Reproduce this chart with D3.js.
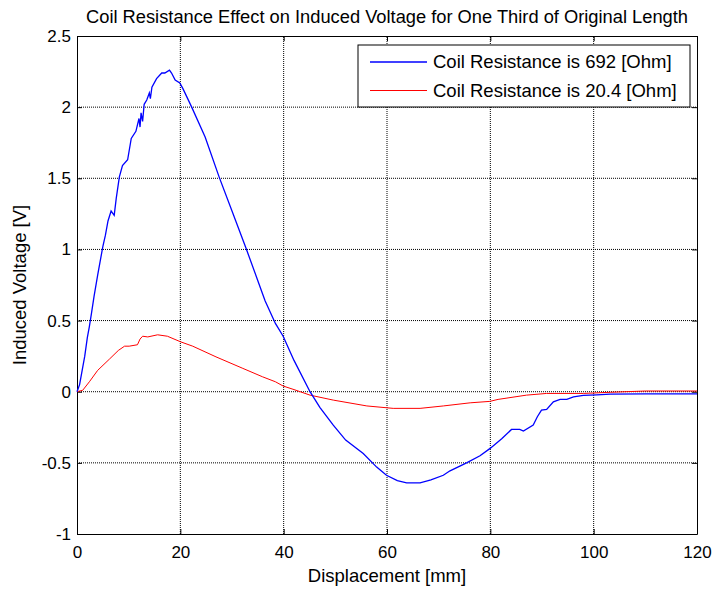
<!DOCTYPE html>
<html>
<head>
<meta charset="utf-8">
<script src="https://cdn.jsdelivr.net/npm/d3@7"></script>
<style>
  body { margin: 0; background: #fff; }
  svg { font-family: "Liberation Sans", Arial, sans-serif; }
  .axis path, .axis line { stroke: #000; }
  .axis text { fill: #000; font-size: 17px; }
</style>
</head>
<body>
<svg id="chart" width="712" height="590"></svg>
<script>
const width = 712;
const height = 590;
const margin = { top: 36, right: 15, bottom: 56, left: 77 };

// data
const xTicks = [0, 20, 40, 60, 80, 100, 120];
const yTicks = [-1, -0.5, 0, 0.5, 1, 1.5, 2, 2.5];

const highDisp = [0, 0.5, 1, 1.5, 2, 2.4, 2.8, 3.3, 4, 5, 5.5, 6, 6.6, 7.2, 7.6, 8.2, 8.8, 9.8, 10.5, 11.4,
  12.0, 12.2, 12.4, 12.7, 13.0, 13.5, 14.0, 14.2, 14.5, 15.4, 16.4, 17.0, 17.9, 18.3, 19.0, 19.9, 20.5,
  22.2, 24.8, 27.5, 30, 32.7, 35, 36.4, 38.4, 39.9, 42, 45.1, 47, 49.6, 52, 55.4, 58, 59.9, 62, 63.8,
  66.4, 68.5, 70.9, 72.2, 75.4, 78, 79.9, 82.2, 84.1, 85.7, 86.4, 88.3, 89.1, 89.9, 90.9, 92.2, 93.5,
  94.8, 96.1, 98, 100.6, 103.2, 110, 120];
const highVolt = [0, 0.05, 0.15, 0.25, 0.38, 0.46, 0.55, 0.67, 0.82, 1.02, 1.1, 1.2, 1.27, 1.24, 1.36, 1.51, 1.59, 1.63, 1.78, 1.83,
  1.92, 1.86, 1.96, 1.90, 2.02, 2.05, 2.10, 2.06, 2.14, 2.20, 2.24, 2.24, 2.26, 2.24, 2.19, 2.17, 2.13,
  2.00, 1.79, 1.51, 1.27, 1.01, 0.78, 0.64, 0.48, 0.39, 0.22, 0, -0.11, -0.235, -0.34, -0.434, -0.53, -0.587, -0.625, -0.64,
  -0.64, -0.62, -0.587, -0.556, -0.50, -0.45, -0.40, -0.33, -0.265, -0.265, -0.277, -0.235, -0.176, -0.13, -0.125, -0.071, -0.054,
  -0.054, -0.036, -0.026, -0.022, -0.017, -0.015, -0.015];

const lowDisp = [0, 1.1, 2.4, 4.0, 6.3, 8.0, 9.2, 10.1, 11.7, 12.2, 12.7, 13.7, 15.6, 17.5, 20.1, 22.4, 26.9,
  32.1, 35.9, 38.4, 39.9, 42, 45.1, 49.6, 56.1, 61.2, 66.4, 70.9, 76.1, 79.9, 81.5, 87.0, 90.9, 98,
  103.2, 110, 120];
const lowVolt = [0, 0.01, 0.07, 0.15, 0.23, 0.29, 0.32, 0.32, 0.33, 0.37, 0.39, 0.385, 0.40, 0.39, 0.35, 0.32, 0.245,
  0.164, 0.105, 0.07, 0.04, 0.015, -0.024, -0.059, -0.10, -0.117, -0.117, -0.10, -0.078, -0.068, -0.054, -0.024, -0.012, -0.012,
  -0.004, 0.005, 0.005];

const seriesNames = ["Coil Resistance is 692 [Ohm]", "Coil Resistance is 20.4 [Ohm]"];
const seriesColors = ["#0000ff", "#ff0000"];

const svg = d3.select("#chart");

const x = d3.scaleLinear().domain([0, 120]).range([margin.left, width - margin.right]);
const y = d3.scaleLinear().domain([-1, 2.5]).range([height - margin.bottom, margin.top]);

// plain hyphen minus, like the original figure
const plain = (d) => String(d);

// grid
svg.append("g")
  .selectAll("line")
  .data(xTicks.slice(1, -1))
  .join("line")
  .attr("x1", (d) => x(d)).attr("x2", (d) => x(d))
  .attr("y1", y(-1)).attr("y2", y(2.5))
  .attr("stroke", "#000").attr("stroke-width", 1).attr("stroke-dasharray", "1,1");

svg.append("g")
  .selectAll("line")
  .data(yTicks.slice(1, -1))
  .join("line")
  .attr("x1", x(0)).attr("x2", x(120))
  .attr("y1", (d) => y(d)).attr("y2", (d) => y(d))
  .attr("stroke", "#000").attr("stroke-width", 1).attr("stroke-dasharray", "1,1");

// axes, ticks pointing inward
svg.append("g")
  .attr("class", "axis")
  .attr("transform", `translate(0, ${y(-1)})`)
  .call(d3.axisBottom(x).tickValues(xTicks).tickSizeInner(-5).tickSizeOuter(0).tickPadding(12).tickFormat(plain));

svg.append("g")
  .attr("class", "axis")
  .attr("transform", `translate(0, ${y(2.5)})`)
  .call(d3.axisTop(x).tickValues(xTicks).tickSizeInner(-5).tickSizeOuter(0).tickFormat(""));

svg.append("g")
  .attr("class", "axis")
  .attr("transform", `translate(${x(0)}, 0)`)
  .call(d3.axisLeft(y).tickValues(yTicks).tickSizeInner(-5).tickSizeOuter(0).tickPadding(6).tickFormat(plain));

svg.append("g")
  .attr("class", "axis")
  .attr("transform", `translate(${x(120)}, 0)`)
  .call(d3.axisRight(y).tickValues(yTicks).tickSizeInner(-5).tickSizeOuter(0).tickFormat(""));

// lines
const line = d3.line().x((d) => x(d[0])).y((d) => y(d[1]));

const highPts = d3.zip(highDisp, highVolt);
const lowPts = d3.zip(lowDisp, lowVolt);

svg.append("path")
  .datum(lowPts)
  .attr("d", line)
  .attr("fill", "none")
  .attr("stroke", seriesColors[1])
  .attr("stroke-width", 1);

svg.append("path")
  .datum(highPts)
  .attr("d", line)
  .attr("fill", "none")
  .attr("stroke", seriesColors[0])
  .attr("stroke-width", 1.3);

// legend
const legend = svg.append("g").attr("transform", "translate(358, 45)");
legend.append("rect")
  .attr("width", 332).attr("height", 62)
  .attr("fill", "#fff").attr("stroke", "#000").attr("stroke-width", 1);

seriesNames.forEach((name, i) => {
  const ly = 17 + i * 28.5;
  legend.append("line")
    .attr("x1", 12).attr("x2", 69)
    .attr("y1", ly).attr("y2", ly)
    .attr("stroke", seriesColors[i]).attr("stroke-width", i === 0 ? 1.3 : 1);
  legend.append("text")
    .attr("x", 75).attr("y", ly).attr("dy", "0.35em")
    .attr("font-size", 18.5)
    .text(name);
});

// title
svg.append("text")
  .attr("x", x(60)).attr("y", 23)
  .attr("text-anchor", "middle")
  .attr("font-size", 18.3)
  .text("Coil Resistance Effect on Induced Voltage for One Third of Original Length");

svg.append("text")
  .attr("x", x(60)).attr("y", 582)
  .attr("text-anchor", "middle")
  .attr("font-size", 18.5)
  .text("Displacement [mm]");

svg.append("text")
  .attr("transform", `translate(26, ${y(0.75)}) rotate(-90)`)
  .attr("text-anchor", "middle")
  .attr("font-size", 18.5)
  .text("Induced Voltage [V]");
</script>
</body>
</html>
